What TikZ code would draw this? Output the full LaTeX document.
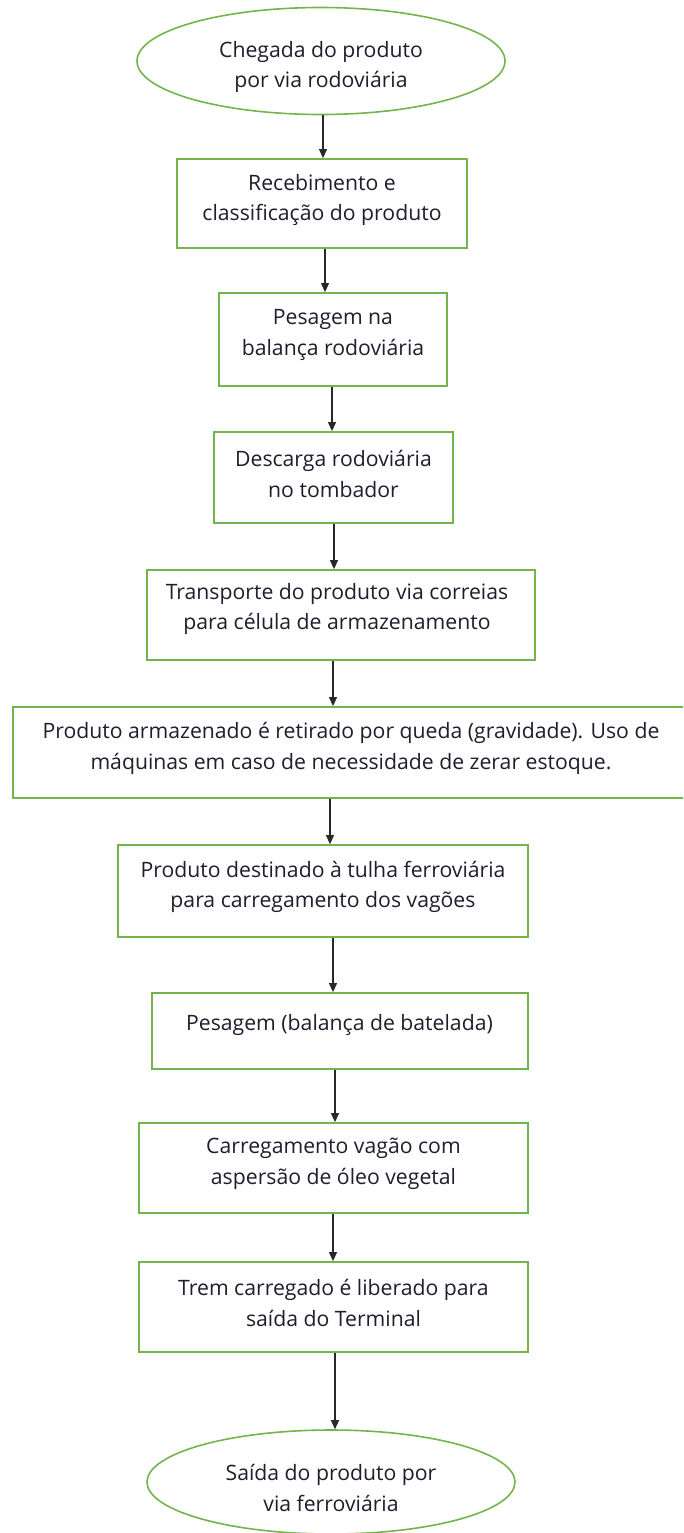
\documentclass[tikz,border=0pt]{standalone}
\usepackage{fontspec}
\setmainfont{Open Sans}
\usetikzlibrary{arrows.meta,shapes.geometric}
\definecolor{gr}{RGB}{116,180,76}
\definecolor{ink}{RGB}{30,30,45}
\definecolor{arrowc}{RGB}{40,40,40}
\begin{document}
\begin{tikzpicture}[x=1pt,y=-1pt,
 box/.style={draw=gr,line width=1.8pt,rectangle,inner sep=0pt},
 oval/.style={draw=gr,line width=1.6pt,ellipse,inner sep=0pt},
 txt/.style={text=ink,align=center,font=\fontsize{21.2}{30.5}\selectfont,inner sep=0pt},
 arr/.style={draw=arrowc,line width=1.1pt,-{Triangle[width=8pt,length=9pt]}}]
\useasboundingbox (0,0) rectangle (683,1533);
\fill[white] (0,0) rectangle (683,1533);
\clip (0,0) rectangle (683,1533);
% shapes
\node[oval,minimum width=368pt,minimum height=107pt] (e1) at (321,61) {};
\node[box,minimum width=290pt,minimum height=89pt] (b1) at (322,203.5) {};
\node[box,minimum width=228pt,minimum height=93pt] (b2) at (333,339.5) {};
\node[box,minimum width=239pt,minimum height=91pt] (b3) at (333.5,477.5) {};
\node[box,minimum width=388pt,minimum height=90pt] (b4) at (341,615) {};
\node[box,minimum width=677pt,minimum height=91pt] (b5) at (351.5,752.5) {};
\node[box,minimum width=410pt,minimum height=92pt] (b6) at (323,891) {};
\node[box,minimum width=376pt,minimum height=76pt] (b7) at (340,1031) {};
\node[box,minimum width=389pt,minimum height=90pt] (b8) at (333.5,1168) {};
\node[box,minimum width=389pt,minimum height=90pt] (b9) at (333.5,1307) {};
\node[oval,minimum width=368pt,minimum height=104pt] (e2) at (331,1482) {};
% texts
\node[txt] (t0) at (321,67) {Chegada do produto\\por via rodoviária};
\node[txt] (t1) at (322,200) {Recebimento e\\classificação do produto};
\node[txt] (t2) at (333,335) {Pesagem na\\balança rodoviária};
\node[txt] (t3) at (333.5,474) {Descarga rodoviária\\no tombador};
\node[txt] (t4) at (337,609) {Transporte do produto via correias\\para célula de armazenamento};
\node[txt] (t5) at (351,748.5) {Produto armazenado é retirado por queda (gravidade). Uso de\\máquinas em caso de necessidade de zerar estoque.};
\node[txt] (t6) at (323,887) {Produto destinado à tulha ferroviária\\para carregamento dos vagões};
\node[txt] (t7) at (339.5,1025) {Pesagem (balança de batelada)};
\node[txt] (t8) at (333.5,1164) {Carregamento vagão com\\aspersão de óleo vegetal};
\node[txt] (t9) at (333.5,1303) {Trem carregado é liberado para\\saída do Terminal};
\node[txt] (t10) at (331,1488) {Saída do produto por\\via ferroviária};
% arrow columns
\coordinate (x1) at (323,0);
\coordinate (x2) at (325,0);
\coordinate (x3) at (332,0);
\coordinate (x4) at (334,0);
\coordinate (x5) at (333,0);
\coordinate (x6) at (330,0);
\coordinate (x7) at (333,0);
\coordinate (x8) at (335,0);
\coordinate (x9) at (333,0);
\coordinate (x10) at (335,0);
\draw[arr] (e1.south -| x1) -- (b1.north -| x1);
\draw[arr] (b1.south -| x2) -- (b2.north -| x2);
\draw[arr] (b2.south -| x3) -- (b3.north -| x3);
\draw[arr] (b3.south -| x4) -- (b4.north -| x4);
\draw[arr] (b4.south -| x5) -- (b5.north -| x5);
\draw[arr] (b5.south -| x6) -- (b6.north -| x6);
\draw[arr] (b6.south -| x7) -- (b7.north -| x7);
\draw[arr] (b7.south -| x8) -- (b8.north -| x8);
\draw[arr] (b8.south -| x9) -- (b9.north -| x9);
\draw[arr] (b9.south -| x10) -- (e2.north -| x10);
\end{tikzpicture}
\end{document}
